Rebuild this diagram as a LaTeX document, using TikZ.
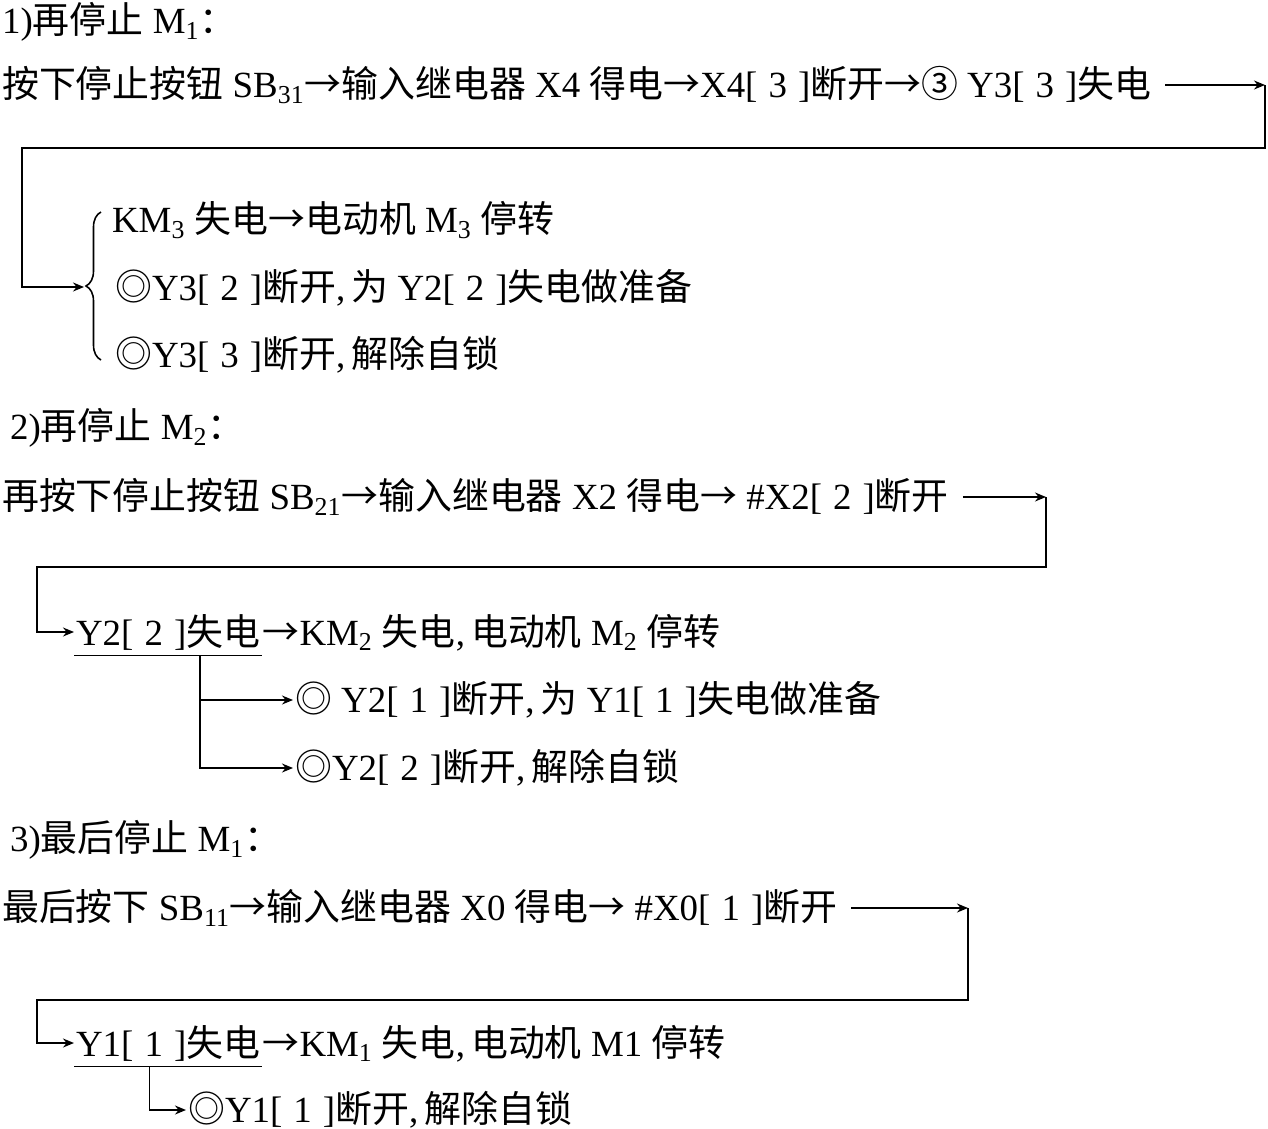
\documentclass[tikz,border=0pt]{standalone}
\usepackage{fontspec}
\setmainfont{Liberation Serif}
\newfontfamily\cjk{Noto Sans CJK SC}
\newcommand{\zh}[1]{{\cjk #1}}
\newcommand{\tto}{\zh{→}}
\newcommand{\bx}[1]{[\hspace{0.3em}#1\hspace{0.3em}]}
\usetikzlibrary{arrows.meta, positioning, calc, decorations.pathreplacing}

\begin{document}
\begin{tikzpicture}[
    x=0.02cm, y=-0.02cm,
    txt/.style={anchor=west, inner sep=1pt, font=\fontsize{21}{25}\selectfont},
    arrow/.style={-{Stealth[length=2.2mm, width=1.8mm]}, line width=0.9pt},
    wire/.style={line width=0.9pt},
]
\useasboundingbox (0,0) rectangle (1268,1129);

% 1) stop M3 first
\node[txt] (head1) at (0,22) {1)\zh{再停止} M\textsubscript{1}\zh{：}};
\node[txt] (step1) at (0,85) {\zh{按下停止按钮} SB\textsubscript{31}\tto\zh{输入继电器} X4 \zh{得电}\tto X4\bx{3}\zh{断开}\tto\zh{③} Y3\bx{3}\zh{失电}};
\coordinate (turn1a) at (1265,85);
\coordinate (turn1b) at (22,148);
\coordinate (tip1) at (84,287);

\node[txt] (res11) at (110,220) {KM\textsubscript{3} \zh{失电}\tto\zh{电动机} M\textsubscript{3} \zh{停转}};
\node[txt] (res12) at (113,288) {\zh{◎}Y3\bx{2}\zh{断开},\,\zh{为} Y2\bx{2}\zh{失电做准备}};
\node[txt] (res13) at (113,355) {\zh{◎}Y3\bx{3}\zh{断开},\,\zh{解除自锁}};

\draw[arrow] (step1.east) ++(12,0) -- (turn1a);
\draw[arrow] (turn1a) |- (turn1b) |- (tip1);
\draw[wire, decorate, decoration={brace, amplitude=0.3cm}] (101,360) -- (101,212);

% 2) then stop M2
\node[txt] (head2) at (8,428) {2)\zh{再停止} M\textsubscript{2}\zh{：}};
\node[txt] (step2) at (0,497) {\zh{再按下停止按钮} SB\textsubscript{21}\tto\zh{输入继电器} X2 \zh{得电}\tto\ \#X2\bx{2}\zh{断开}};
\coordinate (turn2a) at (1046,497);
\coordinate (turn2b) at (37,567);

\node[txt] (coil2) at (74,632) {Y2\bx{2}\zh{失电}};
\node[txt, anchor=base west, inner sep=0pt] (res2) at (coil2.base east) {\tto KM\textsubscript{2} \zh{失电},\,\zh{电动机} M\textsubscript{2} \zh{停转}};
\node[txt] (res21) at (293,700) {\zh{◎} Y2\bx{1}\zh{断开},\,\zh{为} Y1\bx{1}\zh{失电做准备}};
\node[txt] (res22) at (293,768) {\zh{◎}Y2\bx{2}\zh{断开},\,\zh{解除自锁}};

\draw[arrow] (step2.east) ++(12,0) -- (turn2a);
\draw[arrow] (turn2a) |- (turn2b) |- (coil2.west);
\draw[wire] ([yshift=-2pt]coil2.south west) -- ([yshift=-2pt]coil2.south east);
\coordinate (fork2) at ($([yshift=-2pt]coil2.south west)!0.67!([yshift=-2pt]coil2.south east)$);
\draw[arrow] (fork2) |- (res21.west);
\draw[arrow] (fork2) |- (res22.west);

% 3) stop M1 last
\node[txt] (head3) at (8,840) {3)\zh{最后停止} M\textsubscript{1}\zh{：}};
\node[txt] (step3) at (0,908) {\zh{最后按下} SB\textsubscript{11}\tto\zh{输入继电器} X0 \zh{得电}\tto\ \#X0\bx{1}\zh{断开}};
\coordinate (turn3a) at (968,908);
\coordinate (turn3b) at (37,1000);

\node[txt] (coil3) at (74,1043) {Y1\bx{1}\zh{失电}};
\node[txt, anchor=base west, inner sep=0pt] (res3) at (coil3.base east) {\tto KM\textsubscript{1} \zh{失电},\,\zh{电动机} M1 \zh{停转}};
\node[txt] (res31) at (186,1110) {\zh{◎}Y1\bx{1}\zh{断开},\,\zh{解除自锁}};

\draw[arrow] (step3.east) ++(12,0) -- (turn3a);
\draw[arrow] (turn3a) |- (turn3b) |- (coil3.west);
\draw[wire] ([yshift=-2pt]coil3.south west) -- ([yshift=-2pt]coil3.south east);
\coordinate (fork3) at ($([yshift=-2pt]coil3.south west)!0.4!([yshift=-2pt]coil3.south east)$);
\draw[arrow] (fork3) |- (res31.west);

\end{tikzpicture}
\end{document}
